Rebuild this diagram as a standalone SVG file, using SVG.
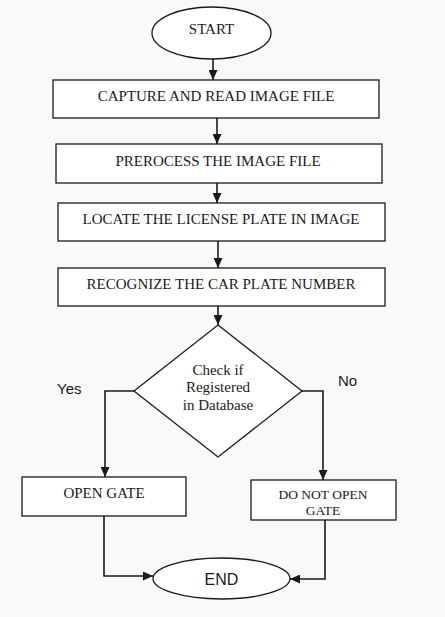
<svg xmlns="http://www.w3.org/2000/svg" width="445" height="617" viewBox="0 0 445 617">
<defs>
<style>
.shape{fill:#ffffff;stroke:#1a1a1a;stroke-width:1.3}
.t{font-family:"Liberation Serif","Times New Roman",serif;font-size:15px;fill:#1a1a1a;text-anchor:middle}
.ts{font-family:"Liberation Serif","Times New Roman",serif;font-size:13.5px;fill:#1a1a1a;text-anchor:middle}
.s{font-family:"Liberation Sans",Arial,sans-serif;font-size:15px;fill:#1a1a1a}
.c{fill:none;stroke:#1a1a1a;stroke-width:1.6}
</style>
<marker id="ah" viewBox="0 0 10 10" refX="10" refY="5" markerWidth="10" markerHeight="9" markerUnits="userSpaceOnUse" orient="auto" preserveAspectRatio="none">
<path d="M0,0 L10,5 L0,10 Z" fill="#1a1a1a"/>
</marker>
</defs>
<rect width="445" height="617" fill="#f9f9f9"/>
<g id="connectors">
<path class="c" d="M213,59 V80" marker-end="url(#ah)"/>
<path class="c" d="M217,118 V144" marker-end="url(#ah)"/>
<path class="c" d="M217,183 V203" marker-end="url(#ah)"/>
<path class="c" d="M218,241 V268" marker-end="url(#ah)"/>
<path class="c" d="M218,306 V325" marker-end="url(#ah)"/>
<path class="c" d="M134,391 H105 V477" marker-end="url(#ah)"/>
<path class="c" d="M302,391 H323 V480" marker-end="url(#ah)"/>
<path class="c" d="M104,516 V576 H153" marker-end="url(#ah)"/>
<path class="c" d="M325,520 V579 H290" marker-end="url(#ah)"/>
</g>
<g id="start">
<ellipse class="shape" cx="211.5" cy="33" rx="59.5" ry="26"/>
<text class="t" x="211.5" y="34">START</text>
</g>
<g id="capture">
<rect class="shape" x="53" y="80" width="326" height="38"/>
<text class="t" x="216" y="101">CAPTURE AND READ IMAGE FILE</text>
</g>
<g id="preprocess">
<rect class="shape" x="56" y="144" width="326" height="39"/>
<text class="t" x="218" y="166">PREROCESS THE IMAGE FILE</text>
</g>
<g id="locate">
<rect class="shape" x="58" y="203" width="327" height="38"/>
<text class="t" x="221" y="224">LOCATE THE LICENSE PLATE IN IMAGE</text>
</g>
<g id="recognize">
<rect class="shape" x="58" y="268" width="327" height="38"/>
<text class="t" x="221" y="289">RECOGNIZE THE CAR PLATE NUMBER</text>
</g>
<g id="check">
<path class="shape" d="M218,325 L302,391 L218,457 L134,391 Z"/>
<text class="t" x="218" y="375">Check if</text>
<text class="t" x="218" y="392">Registered</text>
<text class="t" x="218" y="410">in Database</text>
</g>
<g id="labels">
<text class="s" x="57" y="394">Yes</text>
<text class="s" x="338" y="386">No</text>
</g>
<g id="open">
<rect class="shape" x="22" y="477" width="164" height="39"/>
<text class="t" x="104" y="498">OPEN GATE</text>
</g>
<g id="noopen">
<rect class="shape" x="251" y="480" width="145" height="40"/>
<text class="ts" x="323" y="499">DO NOT OPEN</text>
<text class="ts" x="323" y="515">GATE</text>
</g>
<g id="end">
<ellipse class="shape" cx="221.5" cy="578.5" rx="68.5" ry="20.5"/>
<text class="s" x="221.5" y="585" text-anchor="middle" style="font-size:16px">END</text>
</g>
</svg>
